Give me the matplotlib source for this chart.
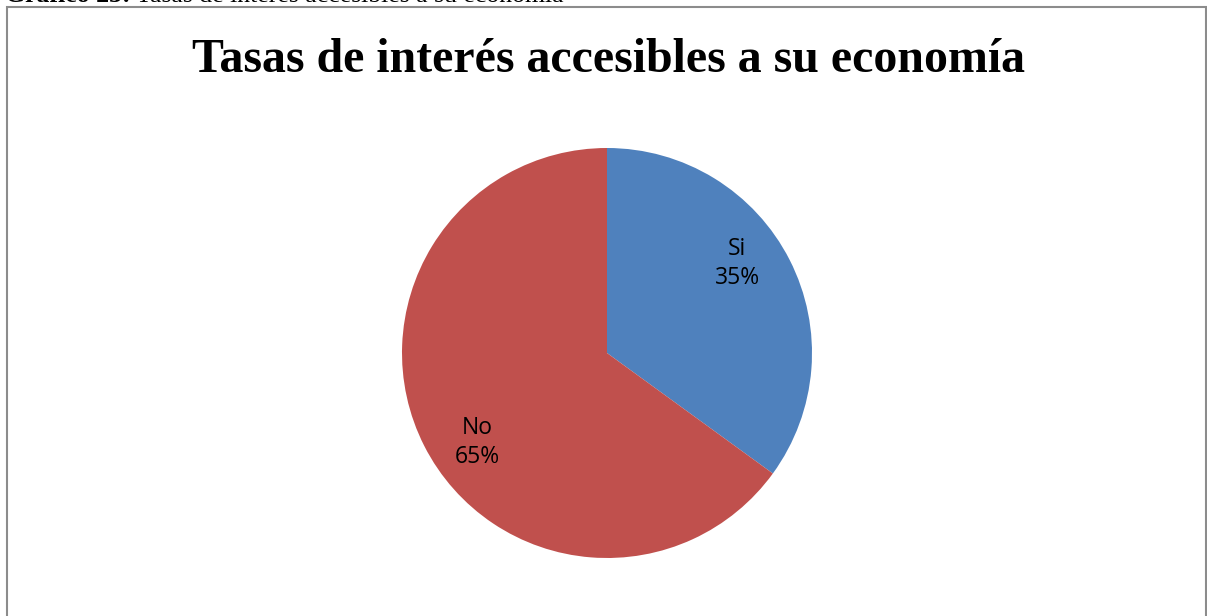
import matplotlib
matplotlib.use("Agg")
import matplotlib.pyplot as plt
import numpy as np
from matplotlib.patches import Rectangle

# -- Data ------------------------------------------------------------------
CATEGORIES = ["Si", "No"]
PERCENTS = [35, 65]
COLORS = ["#4F81BD", "#C0504D"]

TITLE = "Tasas de interés accesibles a su economía"
CAPTION_BOLD = "Gráfico 23:"
CAPTION_REST = " Tasas de interés accesibles a su economía"

W_PX, H_PX = 1207, 616
fig = plt.figure(figsize=(W_PX / 100, H_PX / 100), dpi=100)
fig.patch.set_facecolor("white")

# caption cut by the top edge of the page
cap = fig.text(5 / W_PX, 1 - 2 / H_PX, CAPTION_BOLD, ha="left", va="baseline",
               fontsize=18.5, fontfamily="Liberation Serif", fontweight="bold")
fig.canvas.draw()
bb = cap.get_window_extent()
fig.text(bb.x1 / W_PX, 1 - 2 / H_PX, CAPTION_REST, ha="left", va="baseline",
         fontsize=18.5, fontfamily="Liberation Serif")

# chart frame
fig.patches.append(Rectangle((7 / W_PX, -0.1), (W_PX - 8) / W_PX, 1.1 - 7 / H_PX,
                             transform=fig.transFigure, fill=False,
                             edgecolor="#8c8c8c", linewidth=1.5))

fig.text(609 / W_PX, 1 - 60 / H_PX, TITLE, ha="center", va="center",
         fontsize=34.5, fontfamily="Liberation Serif", fontweight="bold")

# pie axes: centre (607, 353), radius ~205 px
r = 205
ax = fig.add_axes([(607 - r) / W_PX, (H_PX - 353 - r) / H_PX,
                   2 * r / W_PX, 2 * r / H_PX])
labels = [f"{c}\n{p}%" for c, p in zip(CATEGORIES, PERCENTS)]
wedges, texts = ax.pie(PERCENTS, labels=labels, colors=COLORS,
                       startangle=90, counterclock=False,
                       labeldistance=0.76, radius=1,
                       wedgeprops=dict(linewidth=0),
                       textprops=dict(fontsize=16.5, fontfamily="Open Sans",
                                      ha="center", va="center",
                                      linespacing=1.25))
# Excel-style "best fit": labels sit a little counter-clockwise of the middle
for w, t in zip(wedges, texts):
    ang = np.deg2rad((w.theta1 + w.theta2) / 2 + 7.5)
    t.set_position((0.77 * np.cos(ang), 0.77 * np.sin(ang)))
ax.set_xlim(-1, 1)
ax.set_ylim(-1, 1)
ax.set_aspect("equal")
ax.axis("off")

fig.savefig("out.png", dpi=100, facecolor="white")
